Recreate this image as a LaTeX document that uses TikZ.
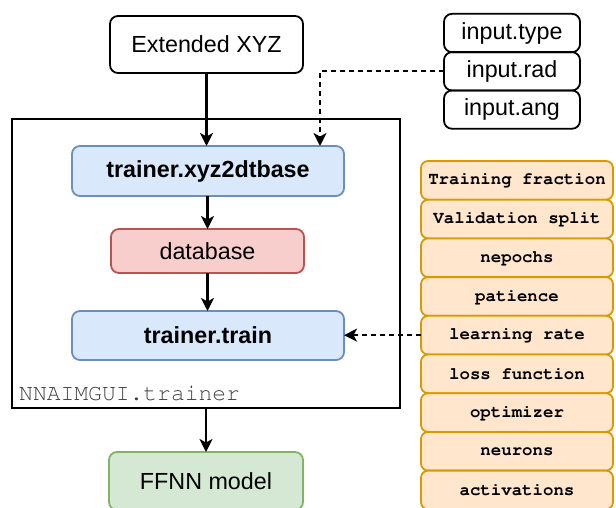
\documentclass[tikz,border=0pt]{standalone}
\usepackage[T1]{fontenc}
\usepackage{fontspec}
\setmainfont{Liberation Sans}
\newcommand{\crfont}{\fontencoding{T1}\fontfamily{pcr}\selectfont}
\usetikzlibrary{arrows.meta,positioning}
\definecolor{bluefill}{HTML}{DAE8FC}
\definecolor{bluedraw}{HTML}{6C8EBF}
\definecolor{redfill}{HTML}{F8CECC}
\definecolor{reddraw}{HTML}{B85450}
\definecolor{greenfill}{HTML}{D5E8D4}
\definecolor{greendraw}{HTML}{82B366}
\definecolor{orangefill}{HTML}{FFE6CC}
\definecolor{orangedraw}{HTML}{D79B00}

\begin{document}
\begin{tikzpicture}[
  x=1pt, y=-1pt,
  font=\fontsize{23.3}{26}\selectfont,
  blk/.style={draw, line width=1.8pt, rounded corners=8pt, align=center, inner sep=0pt, outer sep=0pt},
  inp/.style={blk, minimum width=136pt, minimum height=38.3pt},
  prm/.style={draw=orangedraw, fill=orangefill, line width=1.8pt, rounded corners=7pt,
    minimum width=192pt, minimum height=38.7pt, inner sep=0pt, outer sep=0pt,
    font=\crfont\bfseries\fontsize{17.4}{20}\selectfont},
  arr/.style={-{Stealth[length=13pt, width=13pt, inset=3.5pt]}, line width=2.2pt},
  darr/.style={arr, dash pattern=on 5pt off 4pt}
]
\useasboundingbox (0,0) rectangle (616,508);
\node[blk, minimum width=193pt, minimum height=57pt] (xyz) at (206.5,44.5) {Extended XYZ};
\node[inp] (typ) at (512,33) {input.type};
\node[inp, below=0pt of typ] (rad) {input.rad};
\node[inp, below=0pt of rad] (ang) {input.ang};
\node[draw, line width=2pt, minimum width=388pt, minimum height=289pt, inner sep=0pt, outer sep=0pt] (trn) at (206,263.5) {};
\node[blk, draw=bluedraw, fill=bluefill, minimum width=272pt, minimum height=50pt, font=\bfseries\fontsize{23.3}{26}\selectfont] (dtb) at (208,171) {trainer.xyz2dtbase};
\node[blk, draw=reddraw, fill=redfill, minimum width=193pt, minimum height=44pt] (db) at (207.5,251) {database};
\node[blk, draw=bluedraw, fill=bluefill, minimum width=272pt, minimum height=49pt, font=\bfseries\fontsize{23.3}{26}\selectfont] (train) at (208,335.5) {trainer.train};
\node[anchor=west, inner sep=0pt, text=black!75, font=\crfont\fontsize{23}{26}\selectfont] (lbl) at (19,393) {NNAIMGUI.trainer};
\node[blk, draw=greendraw, fill=greenfill, minimum width=194pt, minimum height=58pt] (ffnn) at (206,481) {FFNN model};
% hyperparameters
\node[prm] (p1) at (517,180.35) {Training fraction};
\node[prm, below=0pt of p1] (p2) {Validation split};
\node[prm, below=0pt of p2] (p3) {nepochs};
\node[prm, below=0pt of p3] (p4) {patience};
\node[prm, below=0pt of p4] (p5) {learning rate};
\node[prm, below=0pt of p5] (p6) {loss function};
\node[prm, below=0pt of p6] (p7) {optimizer};
\node[prm, below=0pt of p7] (p8) {neurons};
\node[prm, below=0pt of p8] (p9) {activations};
\coordinate (dtin) at (320,146);
\draw[arr] (xyz.south) -- (xyz.south |- dtb.north);
\draw[darr] (rad.west) -| (dtin);
\draw[arr] (dtb.south -| db.north) -- (db.north);
\draw[arr] (db.south) -- (db.south |- train.north);
\draw[darr] (p5.west) -- (p5.west -| train.east);
\draw[arr] (trn.south) -- (ffnn.north);
\end{tikzpicture}
\end{document}
